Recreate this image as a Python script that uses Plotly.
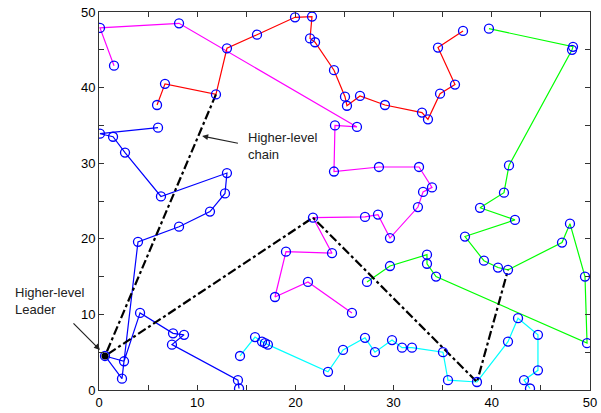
import plotly.graph_objects as go

# ---- data ----
magenta_x = [1.53, 0.10, 8.15, 26.27, 24.03, 23.93, 28.51, 32.59, 33.91, 33.00, 32.48, 29.63, 28.41, 27.09, 21.79, 23.73, 19.04, 17.92, 21.28, 25.76]
magenta_y = [42.9, 47.9, 48.5, 34.8, 35.0, 28.9, 29.5, 29.5, 26.8, 26.2, 24.2, 20.1, 23.2, 22.9, 22.8, 18.1, 18.3, 12.3, 14.3, 10.2]

red_x = [5.91, 6.72, 11.91, 13.03, 16.09, 19.96, 21.69, 21.49, 22.00, 23.93, 25.05, 25.25, 26.58, 29.12, 32.89, 33.50, 34.73, 36.25, 34.52, 37.07]
red_y = [37.7, 40.5, 39.1, 45.2, 47.0, 49.3, 49.4, 46.5, 46.0, 42.3, 38.8, 37.6, 38.9, 37.7, 36.7, 35.8, 39.2, 40.4, 45.3, 47.5]

blue_x = [6.01, 0.10, 1.43, 2.65, 6.31, 13.03, 12.83, 11.30, 8.15, 3.97, 2.34, 0.61, 2.55, 4.18, 7.54, 8.66, 7.43, 14.15, 14.26]
blue_y = [34.7, 33.9, 33.5, 31.4, 25.6, 28.7, 26.0, 23.6, 21.6, 19.6, 1.5, 4.5, 3.8, 10.2, 7.5, 7.3, 6.0, 1.3, 0.2]

cyan_x = [14.36, 15.89, 16.60, 16.90, 17.20, 23.32, 24.85, 27.09, 28.10, 29.84, 30.86, 31.87, 35.03, 35.54, 38.49, 41.65, 42.67, 44.70, 44.70, 43.28, 43.89]
cyan_y = [4.5, 7.0, 6.4, 6.2, 6.0, 2.4, 5.3, 6.9, 5.0, 6.6, 5.6, 5.6, 5.0, 1.3, 1.06, 6.4, 9.5, 7.3, 2.6, 1.3, 0.2]

green_x = [39.71, 48.27, 48.17, 41.75, 41.24, 38.80, 42.36, 37.27, 39.20, 40.63, 41.65, 47.15, 47.96, 49.49, 49.70, 34.32, 33.40, 33.40, 29.63, 27.29]
green_y = [47.8, 45.4, 45.0, 29.7, 26.1, 24.1, 22.5, 20.3, 17.1, 16.2, 15.9, 19.5, 22.0, 15.0, 6.2, 15.0, 16.7, 17.9, 16.4, 14.3]

chain_x = [11.91, 0.61, 21.79, 38.49, 41.65]
chain_y = [39.1, 4.5, 22.8, 1.06, 15.9]

leader_x = [0.61]
leader_y = [4.5]

tick_vals = [0, 5, 10, 15, 20, 25, 30, 35, 40, 45, 50]
tick_text = ["0", "", "10", "", "20", "", "30", "", "40", "", "50"]

fig = go.Figure()

series = [
    (magenta_x, magenta_y, "#ff00ff"),
    (red_x, red_y, "#ff0000"),
    (blue_x, blue_y, "#0000ff"),
    (cyan_x, cyan_y, "#00ffff"),
    (green_x, green_y, "#00ff00"),
]
for xs, ys, col in series:
    fig.add_trace(go.Scatter(x=xs, y=ys, mode="lines",
                             line=dict(color=col, width=1.2),
                             hoverinfo="skip", showlegend=False))

fig.add_trace(go.Scatter(x=chain_x, y=chain_y, mode="lines",
                         line=dict(color="black", width=2.2, dash="dashdot"),
                         showlegend=False))

all_x = magenta_x + red_x + blue_x + cyan_x + green_x
all_y = magenta_y + red_y + blue_y + cyan_y + green_y
fig.add_trace(go.Scatter(x=all_x, y=all_y, mode="markers",
                         marker=dict(symbol="circle-open", size=9,
                                     color="#0000ff", line=dict(width=1.3)),
                         showlegend=False))

fig.add_trace(go.Scatter(x=leader_x, y=leader_y, mode="markers",
                         marker=dict(symbol="circle", size=7, color="black"),
                         showlegend=False))

font = dict(family="Liberation Sans, Arial, sans-serif", size=13, color="#222222")

# Higher-level chain annotation
fig.add_annotation(x=15.0, y=32.3, xref="x", yref="y", text="Higher-level<br>chain",
                   showarrow=False, xanchor="left", yanchor="middle", align="left", font=font)
fig.add_annotation(x=10.5, y=33.6, ax=14.3, ay=32.6, xref="x", yref="y",
                   axref="x", ayref="y", text="", showarrow=True,
                   arrowhead=2, arrowsize=1, arrowwidth=1.2, arrowcolor="#222222")

# Higher-level Leader annotation (outside the plot area, paper coords)
fig.add_annotation(x=-0.175, y=0.236, xref="paper", yref="paper", text="Higher-level<br>Leader",
                   showarrow=False, xanchor="left", yanchor="middle", align="left", font=font)
fig.add_annotation(x=0.1, y=5.3, ax=-28, ay=-28, xref="x", yref="y",
                   text="", showarrow=True,
                   arrowhead=2, arrowsize=1, arrowwidth=1.2, arrowcolor="#222222")

axis_common = dict(range=[0, 50], tickmode="array", tickvals=tick_vals, ticktext=tick_text,
                   ticks="inside", ticklen=5, tickcolor="#333333", showgrid=False,
                   zeroline=False, showline=True, linecolor="#333333", linewidth=1,
                   mirror="ticks", automargin=False,
                   tickfont=dict(family="Liberation Sans, Arial, sans-serif",
                                 size=13, color="black"))
fig.update_xaxes(**axis_common)
fig.update_yaxes(**axis_common)

fig.update_layout(width=601, height=413, margin=dict(l=99, r=11, t=12, b=23),
                  paper_bgcolor="white", plot_bgcolor="white")

# remove the browser's default 8px body margin so the figure fills the window
fig.write_html("out.html", config={"displayModeBar": False},
               post_script="document.body.style.margin='0px';")
